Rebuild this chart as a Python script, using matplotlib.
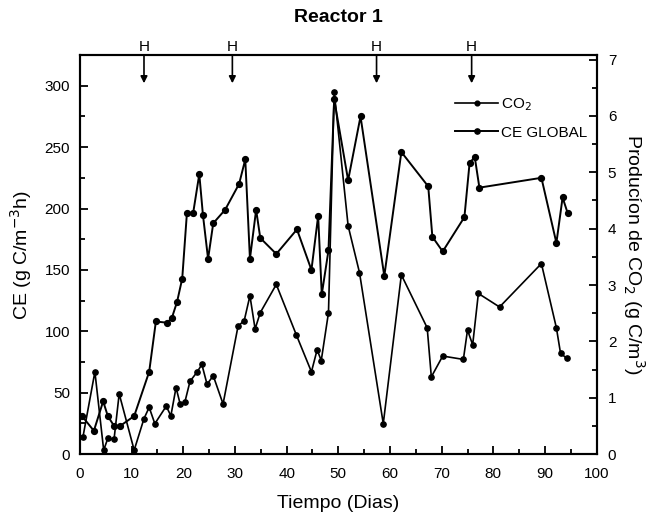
import numpy as np
import matplotlib
matplotlib.use("Agg")
from matplotlib import pyplot as plt
from matplotlib.ticker import MultipleLocator

plt.rcParams['font.family'] = ['Liberation Sans', 'DejaVu Sans']

# CE GLOBAL (left axis, g C/m3h)
dias_ce = [0.4, 2.7, 4.5, 5.4, 6.6, 7.8, 10.5, 13.4, 14.7, 16.9, 17.8, 18.8, 19.8,
           20.7, 21.9, 23.1, 23.8, 24.8, 25.8, 28.1, 30.8, 32.0, 32.9, 34.1, 34.9,
           38.0, 42.0, 44.8, 46.1, 46.8, 48.1, 49.2, 51.9, 54.3, 58.9, 62.2, 67.4,
           68.2, 70.2, 74.4, 75.4, 76.4, 77.3, 89.3, 92.2, 93.4, 94.4]
ce = [31, 19, 43, 31, 23, 23, 31, 67, 108, 107, 111, 124, 143,
      196, 196, 228, 195, 159, 188, 199, 220, 240, 159, 199, 176,
      163, 183, 150, 194, 130, 166, 289, 223, 275, 145, 246, 218,
      177, 165, 193, 237, 242, 217, 225, 172, 209, 196]

# CO2 (right axis, g C/m3)
dias_co2 = [0.6, 2.9, 4.6, 5.4, 6.6, 7.6, 10.5, 12.4, 13.4, 14.5, 16.7, 17.6, 18.6,
            19.4, 20.3, 21.3, 22.7, 23.6, 24.6, 25.8, 27.7, 30.6, 31.8, 32.9, 33.9,
            34.9, 38.0, 41.9, 44.8, 45.9, 46.7, 48.1, 49.2, 51.9, 54.1, 58.7, 62.2,
            67.2, 68.0, 70.2, 74.2, 75.0, 76.0, 77.1, 81.2, 89.3, 92.2, 93.0, 94.2]
co2 = [0.31, 1.46, 0.07, 0.28, 0.26, 1.07, 0.07, 0.63, 0.83, 0.54, 0.85, 0.68, 1.18,
       0.89, 0.92, 1.29, 1.46, 1.59, 1.24, 1.39, 0.89, 2.27, 2.37, 2.81, 2.22,
       2.51, 3.01, 2.11, 1.46, 1.85, 1.66, 2.51, 6.43, 4.05, 3.22, 0.54, 3.18,
       2.24, 1.37, 1.74, 1.68, 2.20, 1.94, 2.85, 2.61, 3.38, 2.24, 1.79, 1.70]

# dias con H
dias_h = [12.4, 29.5, 57.4, 75.8]

fig = plt.figure(figsize=(6.55, 5.19), dpi=100)
ax = fig.add_axes([0.122, 0.125, 0.789, 0.769])
ax2 = ax.twinx()

l2, = ax.plot(dias_ce, ce, color='black', lw=1.4, marker='o', ms=4.2, label='CE GLOBAL')
l1, = ax2.plot(dias_co2, co2, color='black', lw=1.2, marker='o', ms=3.8, label='CO$_2$')

ax.set_xlim(0, 100)
ax.set_ylim(0, 325)
ax2.set_ylim(0, 7.08)

ax.xaxis.set_major_locator(MultipleLocator(10))
ax.xaxis.set_minor_locator(MultipleLocator(5))
ax.yaxis.set_major_locator(MultipleLocator(50))
ax.yaxis.set_minor_locator(MultipleLocator(25))
ax2.yaxis.set_major_locator(MultipleLocator(1))
ax2.yaxis.set_minor_locator(MultipleLocator(0.5))

ax.tick_params(axis='both', which='both', direction='in', labelsize=11, width=1.3)
ax.tick_params(which='major', length=6)
ax.tick_params(which='minor', length=3.5)
ax.tick_params(axis='x', which='both', pad=9, top=False)
ax.tick_params(axis='y', which='both', pad=7, right=False)
ax2.tick_params(axis='y', which='both', direction='in', labelsize=11, width=1.3, pad=8)
ax2.tick_params(which='major', length=6)
ax2.tick_params(which='minor', length=3.5)

for a in (ax, ax2):
    for s in a.spines.values():
        s.set_linewidth(1.5)

ax.set_xlabel('Tiempo (Dias)', fontsize=14, labelpad=10)
ax.set_ylabel('CE (g C/m$^{-3}$h)', fontsize=14, labelpad=8)
ax2.set_ylabel('Producíon de CO$_2$ (g C/m$^3$)', fontsize=14, rotation=270, labelpad=22)
ax.set_title('Reactor 1', fontsize=14, fontweight='bold', pad=24)

for d in dias_h:
    ax.annotate('', xy=(d, 302), xytext=(d, 325),
                arrowprops=dict(arrowstyle='-|>', color='black', lw=1.2,
                                mutation_scale=10, shrinkA=0, shrinkB=0))
    ax.text(d, 326, 'H', ha='center', va='bottom', fontsize=11)

ax2.legend(handles=[l1, l2], loc='upper left', bbox_to_anchor=(0.70, 0.93),
           frameon=False, fontsize=11, handlelength=2.8, handletextpad=0.2,
           labelspacing=0.8, markerscale=0.9)

fig.savefig('out.png', dpi=100)
